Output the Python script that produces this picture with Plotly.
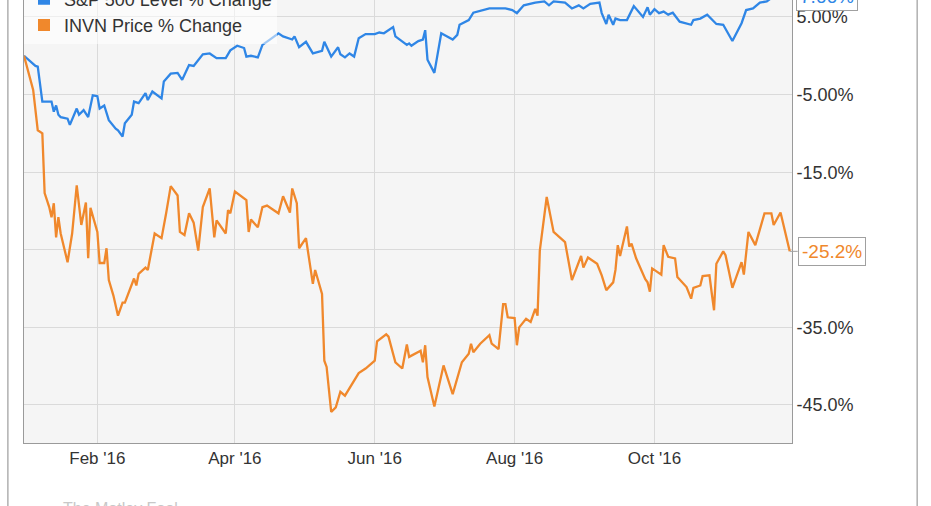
import plotly.graph_objects as go

# ---------------- data ----------------
invn_dates = ["2015-12-31","2016-01-04","2016-01-06","2016-01-08","2016-01-09","2016-01-11","2016-01-12","2016-01-13",
"2016-01-14","2016-01-15","2016-01-16","2016-01-19","2016-01-21","2016-01-23","2016-01-25","2016-01-27","2016-01-28",
"2016-01-29","2016-02-01","2016-02-02","2016-02-04","2016-02-05","2016-02-06","2016-02-08","2016-02-10","2016-02-12",
"2016-02-13","2016-02-17","2016-02-18","2016-02-19","2016-02-22","2016-02-23","2016-02-26","2016-02-29","2016-03-02",
"2016-03-04","2016-03-07","2016-03-08","2016-03-10","2016-03-12","2016-03-14","2016-03-16","2016-03-18","2016-03-21",
"2016-03-23","2016-03-24","2016-03-28","2016-03-29","2016-03-30","2016-04-01","2016-04-06","2016-04-07","2016-04-08",
"2016-04-11","2016-04-13","2016-04-15","2016-04-18","2016-04-20","2016-04-22","2016-04-25","2016-04-26","2016-04-28",
"2016-04-29","2016-05-02","2016-05-05","2016-05-06","2016-05-09","2016-05-10","2016-05-11","2016-05-13","2016-05-15",
"2016-05-17","2016-05-19","2016-05-25","2016-05-28","2016-06-01","2016-06-02","2016-06-06","2016-06-07","2016-06-10",
"2016-06-13","2016-06-15","2016-06-16","2016-06-21","2016-06-22","2016-06-23","2016-06-24","2016-06-27","2016-07-01",
"2016-07-05","2016-07-09","2016-07-12","2016-07-13","2016-07-14","2016-07-17","2016-07-21","2016-07-22","2016-07-25",
"2016-07-27","2016-07-28","2016-07-29","2016-08-01","2016-08-02","2016-08-03","2016-08-06","2016-08-08","2016-08-10",
"2016-08-11","2016-08-12","2016-08-15","2016-08-18","2016-08-23","2016-08-26","2016-08-30","2016-08-31","2016-09-02",
"2016-09-06","2016-09-08","2016-09-10","2016-09-13","2016-09-14","2016-09-15","2016-09-16","2016-09-19","2016-09-20",
"2016-09-21","2016-09-23","2016-09-27","2016-09-28","2016-09-29","2016-09-30","2016-10-04","2016-10-05","2016-10-07",
"2016-10-10","2016-10-11","2016-10-15","2016-10-17","2016-10-18","2016-10-21","2016-10-22","2016-10-25","2016-10-26",
"2016-10-27","2016-10-28","2016-10-31","2016-11-01","2016-11-04","2016-11-08","2016-11-09","2016-11-11","2016-11-14",
"2016-11-18","2016-11-21","2016-11-22","2016-11-25","2016-11-29"]
invn_values = [0,-4.4,-9.6,-10,-17.7,-19.5,-20.8,-19,-23.4,-20.8,-22.9,-26.6,-22.9,-16.7,-21.8,-18.9,-26.1,-19.6,-22.7,
-26.7,-26.7,-24.8,-28.9,-30.9,-33.5,-31.8,-31.8,-28.7,-29.6,-28.1,-27.3,-27.6,-22.9,-23.5,-20.3,-16.8,-18,-22.7,-23.1,
-20.3,-21.5,-25.1,-19.5,-17.1,-23.4,-21.2,-22.9,-19.9,-20.3,-17.5,-18.6,-22.7,-21.1,-22.1,-19.5,-19.3,-19.9,-20.3,-18.1,
-20.2,-17.1,-19,-24.8,-23.5,-29.4,-27.6,-30.7,-39.3,-40.1,-45.9,-45.3,-43.3,-43.8,-40.9,-40.3,-39.3,-36.8,-35.9,-36.2,
-39.5,-40.3,-37.2,-38.8,-38,-39.5,-37.3,-41.4,-45.2,-39.9,-43.6,-39.5,-38.4,-37.1,-38.2,-37.1,-36,-37.1,-37.8,-32,-32,
-33.7,-33.8,-37.3,-35,-33.9,-34.3,-32.6,-33.5,-25.1,-18.2,-22.7,-24,-28.9,-25.8,-27.3,-26,-26.8,-28.3,-30.2,-29.2,-27.6,
-24.4,-25.8,-22,-24.6,-24.2,-26.1,-28.8,-29.2,-30.4,-27.4,-28.2,-24.4,-25.9,-26.1,-28.5,-29.8,-31.3,-29.9,-29.6,-28.4,
-28.3,-30.6,-32.8,-26.8,-25.2,-25.7,-29.9,-26.6,-28.2,-22.7,-24.4,-20.3,-20.3,-21.8,-20.2,-25.2]

spx_dates = ["2015-12-31","2016-01-03","2016-01-05","2016-01-06","2016-01-07","2016-01-08","2016-01-12","2016-01-13",
"2016-01-14","2016-01-15","2016-01-16","2016-01-19","2016-01-20","2016-01-23","2016-01-24","2016-01-26","2016-01-28",
"2016-01-30","2016-02-01","2016-02-02","2016-02-04","2016-02-06","2016-02-09","2016-02-10","2016-02-12","2016-02-13",
"2016-02-16","2016-02-17","2016-02-19","2016-02-22","2016-02-23","2016-02-25","2016-02-29","2016-03-01","2016-03-04",
"2016-03-07","2016-03-09","2016-03-12","2016-03-14","2016-03-18","2016-03-21","2016-03-24","2016-03-28","2016-03-30",
"2016-04-02","2016-04-05","2016-04-06","2016-04-08","2016-04-11","2016-04-13","2016-04-17","2016-04-20","2016-04-22",
"2016-04-26","2016-04-27","2016-04-29","2016-05-02","2016-05-05","2016-05-09","2016-05-10","2016-05-13","2016-05-16",
"2016-05-17","2016-05-19","2016-05-21","2016-05-23","2016-05-25","2016-05-28","2016-06-01","2016-06-03","2016-06-05",
"2016-06-09","2016-06-10","2016-06-15","2016-06-16","2016-06-17","2016-06-20","2016-06-22","2016-06-23","2016-06-24",
"2016-06-27","2016-06-30","2016-07-05","2016-07-07","2016-07-08","2016-07-12","2016-07-14","2016-07-17","2016-07-21",
"2016-07-28","2016-07-31","2016-08-02","2016-08-05","2016-08-10","2016-08-14","2016-08-16","2016-08-18","2016-08-23",
"2016-08-26","2016-08-29","2016-08-31","2016-09-03","2016-09-07","2016-09-08","2016-09-10","2016-09-11","2016-09-13",
"2016-09-14","2016-09-16","2016-09-19","2016-09-22","2016-09-26","2016-09-28","2016-09-29","2016-10-01","2016-10-03",
"2016-10-05","2016-10-07","2016-10-09","2016-10-12","2016-10-15","2016-10-17","2016-10-18","2016-10-21","2016-10-24",
"2016-10-28","2016-10-31","2016-11-04","2016-11-08","2016-11-10","2016-11-13","2016-11-16","2016-11-19","2016-11-21",
"2016-11-23","2016-11-26","2016-11-29"]
spx_values = [0,-0.8,-1.3,-1.4,-3.6,-5.9,-5.9,-7.2,-6.4,-7.6,-7.9,-8.1,-8.9,-6.8,-7.6,-7,-7.9,-5.1,-5.2,-6.8,-6.4,-8.3,
-9.4,-9.6,-10.4,-8.7,-7.6,-5.9,-6.1,-4.8,-5.7,-4.6,-5.5,-3.3,-2.3,-2.2,-3.1,-1.2,-1.3,0.2,0.3,-0.3,-0.3,0.7,1.3,1.0,
-0.1,0.0,-0.2,1.4,2.25,2.9,2.5,2.1,2.5,1.1,1.8,0.3,0.65,1.8,-0.1,1.1,0.2,-0.2,0.3,-0.1,2.25,2.8,2.8,3.0,2.9,3.7,2.5,
1.4,1.6,1.3,1.9,2.1,3.3,-0.5,-2.2,2.9,2.1,2.7,4.0,4.6,5.55,5.8,6.1,6.1,5.9,5.5,6.5,6.85,7.0,6.5,7.0,6.85,6.1,6.5,6.1,
6.7,6.85,5.5,4.1,5.3,4.0,4.8,4.6,4.6,6.4,5.0,6.25,5.3,6.0,5.5,5.7,5.3,5.55,4.4,4.2,4.0,4.6,4.8,5.3,4.1,4.0,1.9,4.2,
5.9,6.1,6.85,7.0,7.4,7.9,8.2,7.66]

series_names = ["S&P 500 Level % Change", "INVN Price % Change"]
series_colors = ["#2f86e6", "#f0882c"]
end_labels = ["7.66%", "-25.2%"]

y_tickvals = [5, -5, -15, -25, -35, -45]
y_ticktext = ["5.00%", "-5.00%", "-15.0%", "", "-35.0%", "-45.0%"]  # -25.0% sits under the end label
x_tickvals = ["2016-02-01", "2016-04-01", "2016-06-01", "2016-08-01", "2016-10-01"]
x_ticktext = ["Feb '16", "Apr '16", "Jun '16", "Aug '16", "Oct '16"]

FONT = "Liberation Sans, Arial, sans-serif"

fig = go.Figure()
for dates, vals, color in [(spx_dates, spx_values, series_colors[0]),
                           (invn_dates, invn_values, series_colors[1])]:
    fig.add_trace(go.Scatter(x=dates, y=vals, mode="lines", showlegend=False,
                             line=dict(color=color, width=2.3), hoverinfo="skip"))
# legend entries with square swatches
for name, color in zip(series_names, series_colors):
    fig.add_trace(go.Scatter(x=[None], y=[None], mode="markers", name=name,
                             marker=dict(symbol="square", size=12, color=color)))

# end-value label for INVN (anchored at its last point)
fig.add_annotation(x=invn_dates[-1], y=invn_values[-1], text=end_labels[1], showarrow=True,
                   arrowhead=0, arrowcolor="#a0a0a0", arrowwidth=1, ax=8, ay=0, xanchor="left",
                   font=dict(family=FONT, size=19, color=series_colors[1]), bgcolor="white",
                   bordercolor="#a0a0a0", borderwidth=1, borderpad=3)
# end-value label for S&P (its last point lies above the visible range)
fig.add_annotation(x=spx_dates[-1], xref="x", yref="paper", y=1.009, text=end_labels[0],
                   showarrow=False, xanchor="left", yanchor="middle", xshift=6,
                   font=dict(family=FONT, size=19, color=series_colors[0]), bgcolor="white",
                   bordercolor="#a0a0a0", borderwidth=1, borderpad=3)

# outer frame
fig.add_shape(type="rect", xref="paper", yref="paper", x0=-0.021, x1=1.163, y0=-0.3, y1=1.2,
              line=dict(color="#b0b0b0", width=1.5), fillcolor="rgba(0,0,0,0)", layer="below")

fig.add_annotation(xref="paper", yref="paper", x=0.048, y=-0.125, text="The Motley Fool",
                   showarrow=False, xanchor="left", yanchor="top",
                   font=dict(family=FONT, size=16, color="#c8c8c8"))

fig.update_layout(
    width=931, height=506,
    margin=dict(l=24, r=139, t=0, b=63, autoexpand=False),
    paper_bgcolor="white", plot_bgcolor="#f5f5f5",
    font=dict(family=FONT, size=18, color="#333333"),
    legend=dict(x=0.0, y=1.044, xanchor="left", yanchor="top",
                bgcolor="rgba(255,255,255,0.55)", font=dict(size=18, color="#333333"),
                tracegroupgap=0, itemclick=False),
    xaxis=dict(type="date", range=["2015-12-31", "2016-11-30"],
               tickvals=x_tickvals, ticktext=x_ticktext, showgrid=True,
               gridcolor="#dadada", gridwidth=1, showline=True, linecolor="#9a9a9a",
               linewidth=1, mirror=True, ticks="", zeroline=False,
               tickfont=dict(size=17, color="#333333")),
    yaxis=dict(side="right", range=[-49.9, 7.19], tickvals=y_tickvals, ticktext=y_ticktext,
               showgrid=True, gridcolor="#dadada", gridwidth=1, showline=True,
               linecolor="#9a9a9a", linewidth=1, mirror=True, ticks="", zeroline=False,
               tickfont=dict(size=18, color="#333333")),
)

fig.write_html("out.html", config={"displayModeBar": False},
               post_script="document.body.style.margin='0';document.body.style.overflow='hidden';")
